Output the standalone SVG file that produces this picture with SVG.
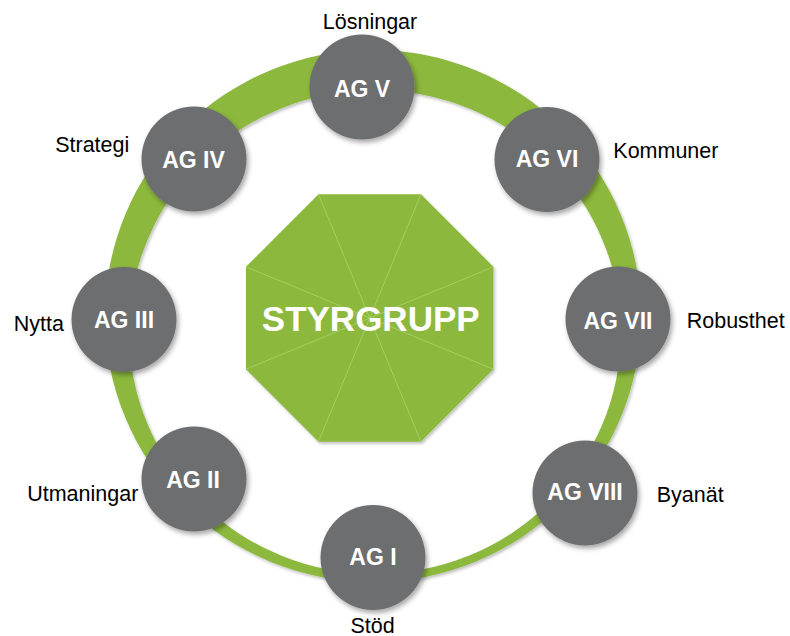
<svg xmlns="http://www.w3.org/2000/svg" width="790" height="636" viewBox="0 0 790 636">
<defs>
<filter id="sh" x="-20%" y="-20%" width="140%" height="140%">
<feDropShadow dx="2" dy="3" stdDeviation="2.5" flood-color="#000" flood-opacity="0.35"/>
</filter>
<filter id="shs" x="-10%" y="-10%" width="120%" height="120%">
<feDropShadow dx="1.5" dy="2" stdDeviation="1.5" flood-color="#000" flood-opacity="0.25"/>
</filter>
</defs>
<style>
.node{fill:#6d6e70;filter:url(#sh)}
.ag{font-family:"Liberation Sans",Arial,sans-serif;font-weight:bold;font-size:23px;fill:#fff;text-anchor:middle}
.lbl{font-family:"Liberation Sans",Arial,sans-serif;font-size:21.5px;fill:#000}
.ray{stroke:#a3cf62;stroke-width:1}
</style>
<rect width="790" height="636" fill="#fff"/>
<g id="connectors">
<path id="ring" fill="#8cb83d" fill-rule="evenodd" filter="url(#shs)" d="M105,316 A268,266 0 1,0 641,316 A268,266 0 1,0 105,316 Z M129,332 A246,242 0 1,1 621,332 A246,242 0 1,1 129,332 Z"/>
</g>
<g id="styrgrupp">
<polygon points="318.5,194.3 420.9,194.3 493.4,266.8 493.4,369.2 420.9,441.7 318.5,441.7 246,369.2 246,266.8" fill="#8cb83d" filter="url(#shs)"/>
<g class="ray">
<line x1="369.7" y1="318" x2="318.5" y2="194.3"/>
<line x1="369.7" y1="318" x2="420.9" y2="194.3"/>
<line x1="369.7" y1="318" x2="493.4" y2="266.8"/>
<line x1="369.7" y1="318" x2="493.4" y2="369.2"/>
<line x1="369.7" y1="318" x2="420.9" y2="441.7"/>
<line x1="369.7" y1="318" x2="318.5" y2="441.7"/>
<line x1="369.7" y1="318" x2="246" y2="369.2"/>
<line x1="369.7" y1="318" x2="246" y2="266.8"/>
</g>
<text x="370.7" y="330.7" font-family="Liberation Sans,Arial,sans-serif" font-weight="bold" font-size="35" fill="#fff" text-anchor="middle">STYRGRUPP</text>
</g>
<g id="ag5"><circle class="node" cx="362" cy="87" r="52.5"/><text class="ag" x="362" y="97">AG V</text><text class="lbl" x="370" y="28.5" text-anchor="middle">Lösningar</text></g>
<g id="ag6"><circle class="node" cx="547" cy="159.5" r="52.5"/><text class="ag" x="547" y="167">AG VI</text><text class="lbl" x="613.3" y="158.3">Kommuner</text></g>
<g id="ag7"><circle class="node" cx="618" cy="319" r="52.5"/><text class="ag" x="618" y="329">AG VII</text><text class="lbl" x="686.7" y="328.3">Robusthet</text></g>
<g id="ag8"><circle class="node" cx="585" cy="493" r="52.5"/><text class="ag" x="585" y="500">AG VIII</text><text class="lbl" x="656.7" y="501.7">Byanät</text></g>
<g id="ag1"><circle class="node" cx="373" cy="557.5" r="52.5"/><text class="ag" x="373" y="564.5">AG I</text><text class="lbl" x="372.5" y="632.5" text-anchor="middle">Stöd</text></g>
<g id="ag2"><circle class="node" cx="194" cy="479" r="52.5"/><text class="ag" x="193" y="487.5">AG II</text><text class="lbl" x="138.3" y="500.7" text-anchor="end">Utmaningar</text></g>
<g id="ag3"><circle class="node" cx="124" cy="319.5" r="52.5"/><text class="ag" x="124" y="327.5">AG III</text><text class="lbl" x="64" y="331" text-anchor="end">Nytta</text></g>
<g id="ag4"><circle class="node" cx="194" cy="159" r="52.5"/><text class="ag" x="193.5" y="168.3">AG IV</text><text class="lbl" x="129.3" y="151.7" text-anchor="end">Strategi</text></g>
</svg>
